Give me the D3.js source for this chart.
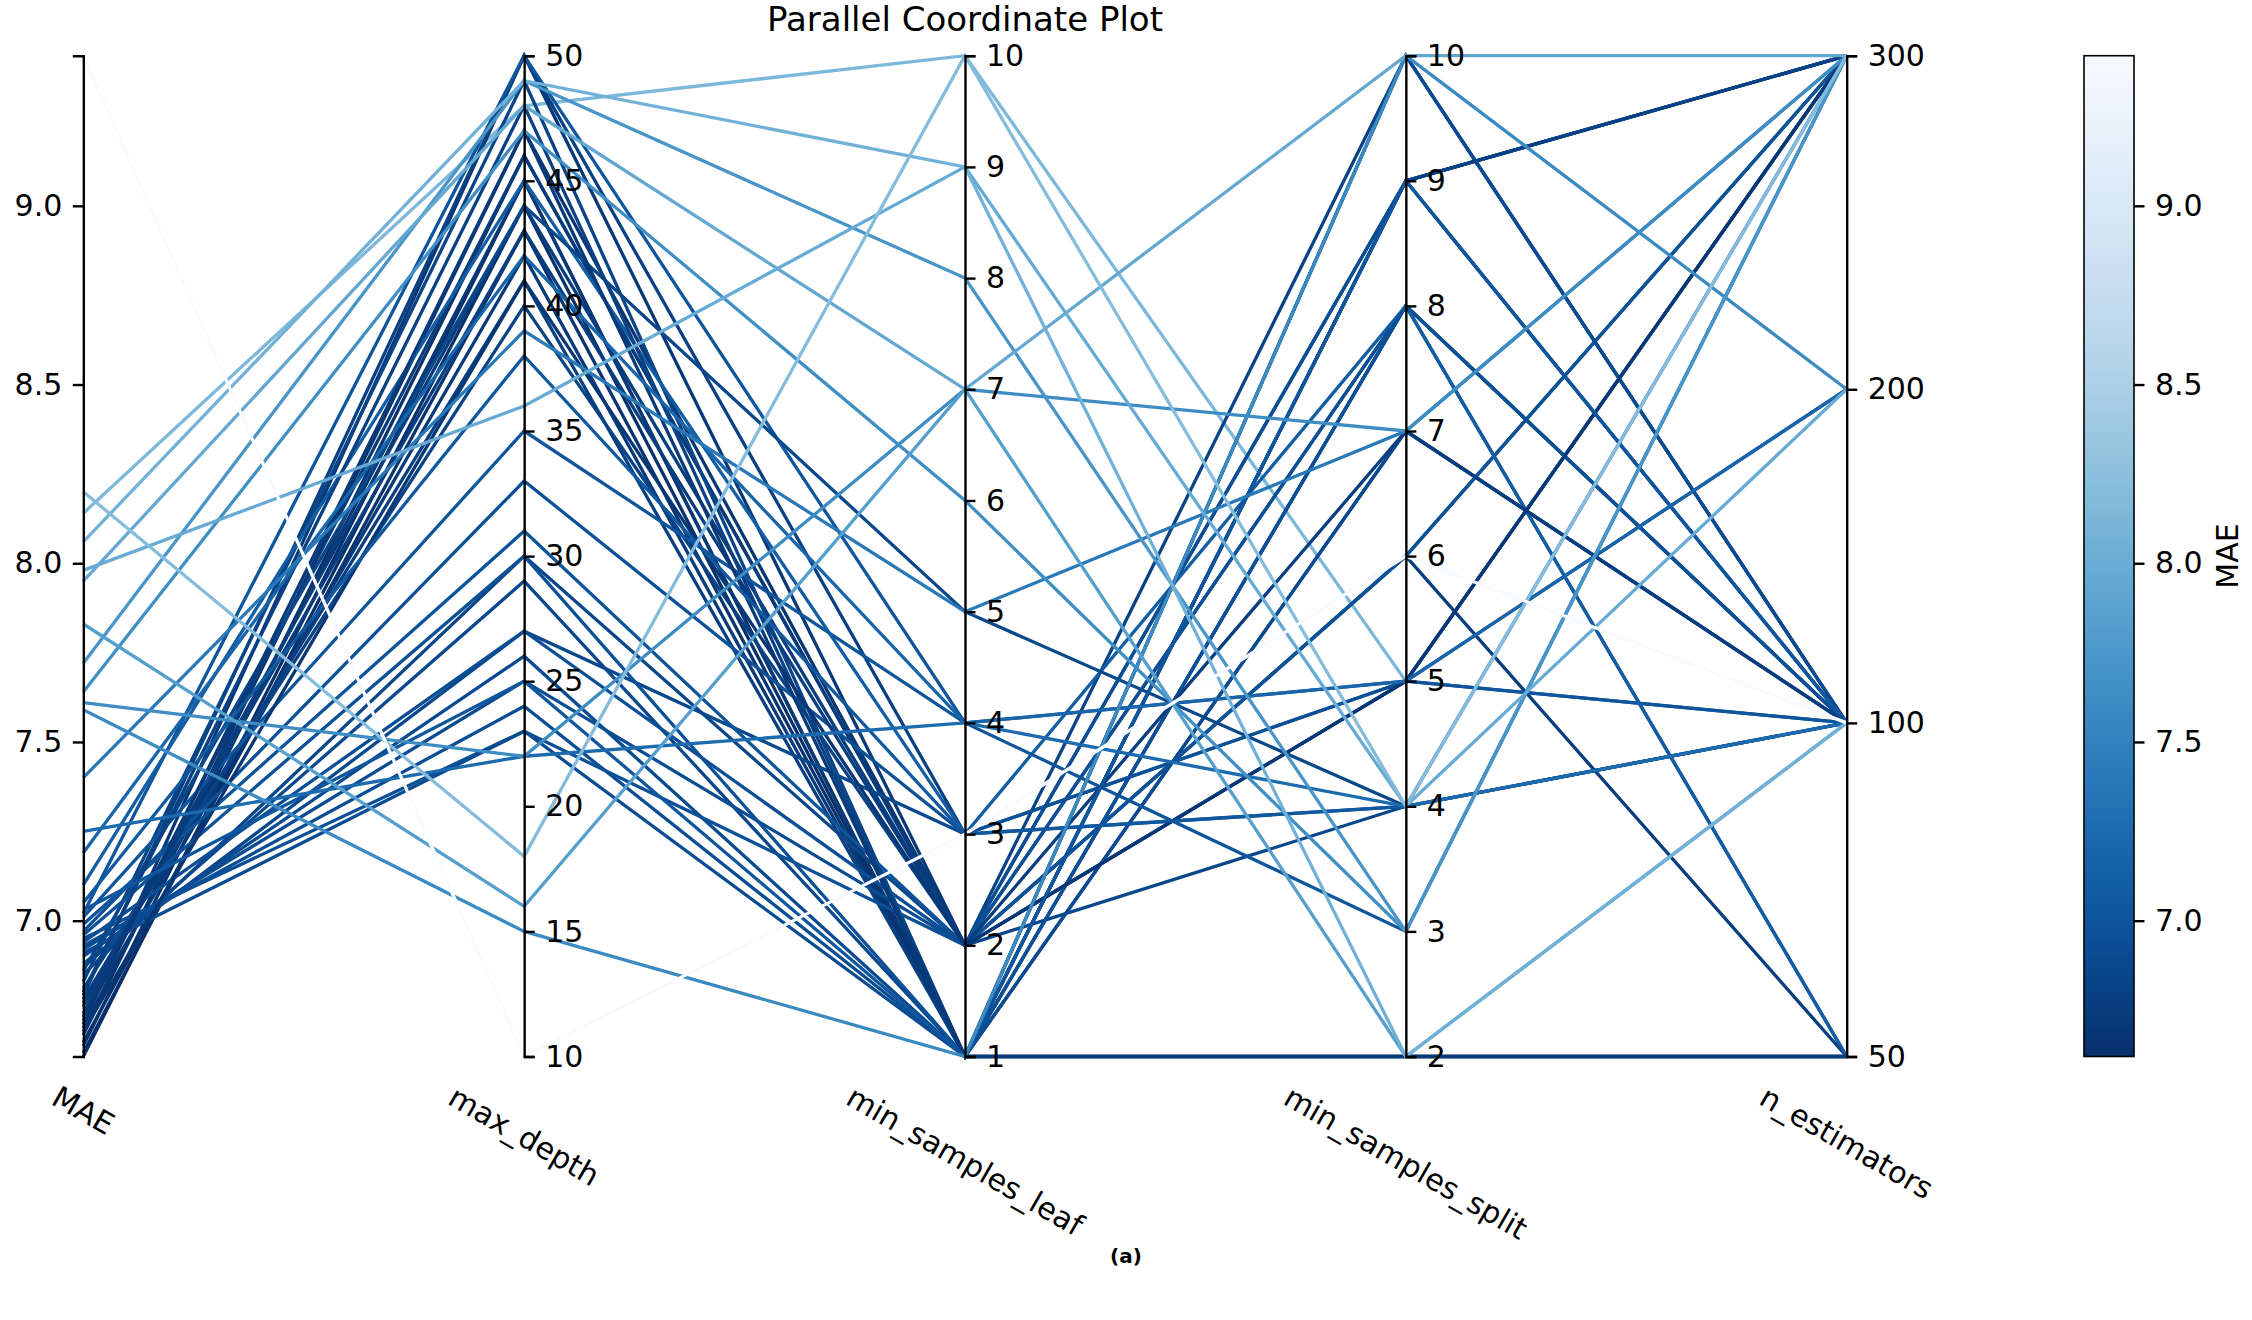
<!DOCTYPE html>
<html><head><meta charset="utf-8">
<script src="https://cdn.jsdelivr.net/npm/d3@7"></script>
<style>body{margin:0;background:#fff} text{font-family:"DejaVu Sans",sans-serif}</style>
</head><body>
<svg id="c" width="2252" height="1320"></svg>
<script>
// ---------- data (one entry per trial, in drawing order) ----------
const dimensions = ["MAE", "max_depth", "min_samples_leaf", "min_samples_split", "n_estimators"];
const maeValues = [8.14, 6.62, 6.63, 6.65, 6.66, 6.68, 6.70, 6.71, 6.73, 6.74, 6.76, 6.78, 6.79, 6.81, 6.83,
  6.85, 6.87, 6.88, 6.90, 6.92, 6.93, 6.95, 6.97, 6.99, 7.01, 7.02, 7.10, 6.86,
  6.96, 6.94, 6.91, 6.80, 6.77, 6.72, 6.69, 7.03,
  7.05, 7.19, 7.25, 7.40, 7.59, 7.64, 7.61, 7.72, 7.83, 7.95, 7.98, 8.06, 8.20, 9.42];
const maxDepth = [48, 45, 44, 46, 43, 47, 45, 50, 42, 46, 44, 41, 50, 40, 49,
  30, 29, 27, 26, 25, 24, 23, 33, 31, 35, 50, 45, 44,
  30, 27, 23, 48, 43, 47, 41, 25,
  38, 42, 22, 39, 15, 47, 22, 49, 16, 48, 36, 49, 18, 10];
const minSamplesLeaf = [10, 1, 1, 2, 1, 2, 1, 2, 1, 2, 2, 1, 3, 2, 1,
  2, 1, 3, 1, 2, 1, 2, 3, 2, 4, 4, 3, 5,
  1, 2, 1, 1, 2, 1, 2, 1,
  3, 4, 4, 5, 1, 6, 7, 8, 7, 7, 9, 9, 10, 3];
const minSamplesSplit = [5, 2, 9, 6, 10, 5, 8, 9, 7, 8, 6, 9, 5, 10, 8,
  4, 2, 4, 7, 5, 9, 8, 5, 6, 3, 5, 8, 4,
  8, 9, 10, 9, 7, 2, 5, 9,
  4, 5, 4, 7, 10, 3, 7, 3, 2, 10, 4, 2, 4, 6];
const nEstimators = [300, 50, 300, 300, 100, 300, 100, 100, 100, 50, 50, 300, 200, 100, 100,
  100, 50, 100, 100, 100, 300, 100, 300, 300, 300, 100, 50, 100,
  100, 100, 100, 300, 100, 50, 300, 100,
  300, 200, 100, 300, 200, 300, 300, 300, 100, 300, 200, 100, 300, 100];

const maeTicks = [7.0, 7.5, 8.0, 8.5, 9.0];
const maxDepthTicks = [10, 15, 20, 25, 30, 35, 40, 45, 50];
const leafTicks = [1, 2, 3, 4, 5, 6, 7, 8, 9, 10];
const splitTicks = [2, 3, 4, 5, 6, 7, 8, 9, 10];
const estimatorCategories = [50, 100, 200, 300];

const rows = maeValues.map((m, i) => ({
  MAE: m, max_depth: maxDepth[i], min_samples_leaf: minSamplesLeaf[i],
  min_samples_split: minSamplesSplit[i], n_estimators: nEstimators[i]
}));

// ---------- layout ----------
const yTop = 55.7, yBottom = 1056.5;
const svg = d3.select("#c");
const x = d3.scalePoint().domain(dimensions).range([83.3, 1846.7]);
const maeExtent = d3.extent(maeValues);
const y = {
  MAE: d3.scaleLinear().domain(maeExtent).range([yBottom, yTop]),
  max_depth: d3.scaleLinear().domain([10, 50]).range([yBottom, yTop]),
  min_samples_leaf: d3.scaleLinear().domain([1, 10]).range([yBottom, yTop]),
  min_samples_split: d3.scaleLinear().domain([2, 10]).range([yBottom, yTop]),
  n_estimators: d3.scalePoint().domain(estimatorCategories).range([yBottom, yTop])
};
const tickVals = {MAE: maeTicks, max_depth: maxDepthTicks, min_samples_leaf: leafTicks,
  min_samples_split: splitTicks, n_estimators: estimatorCategories};
const color = d3.scaleSequential(d3.interpolateBlues).domain([maeExtent[1], maeExtent[0]]);

// ---------- lines ----------
const line = d3.line().x(d => x(d[0])).y(d => y[d[0]](d[1]));
svg.append("g").selectAll("path").data(rows).join("path")
  .attr("d", r => line(dimensions.map(k => [k, r[k]])))
  .attr("fill", "none")
  .attr("stroke", r => color(r.MAE))
  .attr("stroke-width", 3.3)
  .attr("stroke-linejoin", "miter");

// ---------- axes ----------
function styleAxis(g) {
  g.select(".domain").attr("stroke", "#000").attr("stroke-width", 2.4);
  g.selectAll(".tick line").attr("stroke", "#000").attr("stroke-width", 2.4);
  g.selectAll(".tick text").attr("font-size", 30).attr("fill", "#000")
    .attr("font-family", "DejaVu Sans");
}
dimensions.forEach(k => {
  const ax = (k === "MAE" ? d3.axisLeft(y[k]) : d3.axisRight(y[k]))
    .tickSizeOuter(0).tickSize(10.5).tickPadding(10.5);
  if (k === "MAE") ax.tickValues(tickVals[k]).tickFormat(d3.format(".1f"));
  else if (k === "n_estimators") ax.tickValues(tickVals[k]);
  else ax.tickValues(tickVals[k]).tickFormat(d3.format("d"));
  const g = svg.append("g").attr("transform", `translate(${x(k)},0)`).call(ax);
  styleAxis(g);
});

// axis names (rotated)
const hBox = 30 * 1.16;
dimensions.forEach(k => {
  const t = svg.append("text").text(k).attr("font-size", 30).attr("fill", "#000")
    .attr("text-anchor", "middle").attr("dominant-baseline", "central");
  const L = t.node().getComputedTextLength();
  const bh = L * Math.sin(Math.PI / 6) + hBox * Math.cos(Math.PI / 6);
  const cy = 1079 + bh / 2;
  t.attr("transform", `translate(${x(k)},${cy}) rotate(30)`);
});

// title
svg.append("text").text("Parallel Coordinate Plot").attr("x", 965).attr("y", 31)
  .attr("font-size", 34).attr("text-anchor", "middle").attr("fill", "#000");

// ---------- colorbar ----------
const defs = svg.append("defs");
const grad = defs.append("linearGradient").attr("id", "cb")
  .attr("x1", 0).attr("y1", 0).attr("x2", 0).attr("y2", 1);
d3.range(0, 1.0001, 0.02).forEach(t => {
  const v = maeExtent[1] - t * (maeExtent[1] - maeExtent[0]);
  grad.append("stop").attr("offset", t).attr("stop-color", color(v));
});
const cbX = 2084, cbW = 50;
svg.append("rect").attr("x", cbX).attr("y", yTop).attr("width", cbW).attr("height", yBottom - yTop)
  .attr("fill", "url(#cb)").attr("stroke", "#000").attr("stroke-width", 1.6);
const cbAxis = d3.axisRight(y.MAE).tickValues(maeTicks).tickFormat(d3.format(".1f"))
  .tickSizeOuter(0).tickSize(10.5).tickPadding(10.5);
const cbg = svg.append("g").attr("transform", `translate(${cbX + cbW},0)`).call(cbAxis);
styleAxis(cbg);
cbg.select(".domain").remove();
svg.append("text").text("MAE").attr("font-size", 30).attr("text-anchor", "middle")
  .attr("transform", "translate(2238,556) rotate(-90)").attr("fill", "#000");

// caption
svg.append("text").text("(a)").attr("x", 1126).attr("y", 1263)
  .attr("font-size", 20).attr("font-weight", "bold").attr("text-anchor", "middle").attr("fill", "#000");
</script>
</body></html>
